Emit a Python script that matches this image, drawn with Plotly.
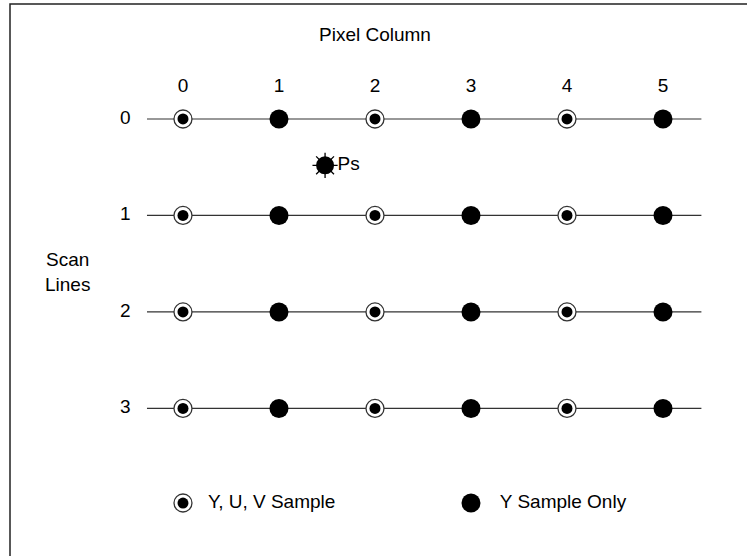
import plotly.graph_objects as go

# sample grid: which pixel columns carry U,V in addition to Y
columns = [0, 1, 2, 3, 4, 5]
scan_lines = [0, 1, 2, 3]
column_labels = ["0", "1", "2", "3", "4", "5"]
row_labels = ["0", "1", "2", "3"]
yuv_columns = [0, 2, 4]
y_only_columns = [1, 3, 5]

ps_point = (1.48, 0.48)
legend_row = 3.98
legend_items = [("Y, U, V Sample", 0, 0.26), ("Y Sample Only", 3, 0.3)]

FONT = dict(family="Liberation Sans, Arial, sans-serif", size=19, color="black")

fig = go.Figure()

# horizontal scan lines
for r in scan_lines:
    fig.add_trace(go.Scatter(
        x=[-0.375, 5.4], y=[r, r], mode="lines",
        line=dict(color="#333333", width=1.2), hoverinfo="skip",
    ))


def yuv_marker(xs, ys):
    fig.add_trace(go.Scatter(
        x=xs, y=ys, mode="markers", hoverinfo="skip",
        marker=dict(symbol="circle", size=18, color="white",
                    line=dict(color="#333333", width=1.3)),
    ))
    fig.add_trace(go.Scatter(
        x=xs, y=ys, mode="markers", hoverinfo="skip",
        marker=dict(symbol="circle", size=11, color="black",
                    line=dict(color="black", width=0)),
    ))


def y_marker(xs, ys):
    fig.add_trace(go.Scatter(
        x=xs, y=ys, mode="markers", hoverinfo="skip",
        marker=dict(symbol="circle", size=19, color="black",
                    line=dict(color="black", width=0)),
    ))


for r in scan_lines:
    yuv_marker(yuv_columns, [r] * len(yuv_columns))
    y_marker(y_only_columns, [r] * len(y_only_columns))

# Ps marker
fig.add_trace(go.Scatter(
    x=[ps_point[0]], y=[ps_point[1]], mode="markers", hoverinfo="skip",
    marker=dict(symbol="circle", size=18, color="black"),
))
fig.add_trace(go.Scatter(
    x=[ps_point[0]], y=[ps_point[1]], mode="markers", hoverinfo="skip",
    marker=dict(symbol="asterisk-open", size=21, color="black",
                line=dict(color="black", width=1.3)),
))
fig.add_trace(go.Scatter(
    x=[ps_point[0] + 0.13], y=[ps_point[1]], mode="text", text=["Ps"],
    textposition="middle right", textfont=FONT, hoverinfo="skip",
))

# column and row labels
fig.add_trace(go.Scatter(
    x=columns, y=[-0.33] * len(columns), mode="text", text=column_labels,
    textfont=FONT, hoverinfo="skip",
))
fig.add_trace(go.Scatter(
    x=[-0.6] * len(scan_lines), y=scan_lines, mode="text", text=row_labels,
    textfont=FONT, hoverinfo="skip",
))

# legend drawn in place
yuv_marker([legend_items[0][1]], [legend_row])
y_marker([legend_items[1][1]], [legend_row])
for label, col, off in legend_items:
    fig.add_trace(go.Scatter(
        x=[col + off], y=[legend_row], mode="text", text=[label],
        textposition="middle right", textfont=FONT, hoverinfo="skip",
    ))

fig.add_annotation(x=2.0, y=-0.88, text="Pixel Column", showarrow=False, font=FONT)
fig.add_annotation(x=-1.198, y=1.59, text="Scan<br>Lines", showarrow=False, font=FONT,
                   align="center")

# outer frame (cropped at right and bottom)
fig.add_shape(type="rect", xref="paper", yref="paper",
              x0=10 / 747, x1=1.05, y0=-0.05, y1=1 - 4 / 556,
              line=dict(color="#222222", width=1.5))

fig.update_layout(
    width=747, height=556,
    margin=dict(l=0, r=0, t=0, b=0),
    paper_bgcolor="white", plot_bgcolor="white",
    showlegend=False,
    xaxis=dict(range=[-1.906, 5.875], visible=False, fixedrange=True),
    yaxis=dict(range=[4.529, -1.233], visible=False, fixedrange=True),
)

fig.write_html("out.html", config={"displayModeBar": False},
               post_script="document.body.style.margin='0';")
